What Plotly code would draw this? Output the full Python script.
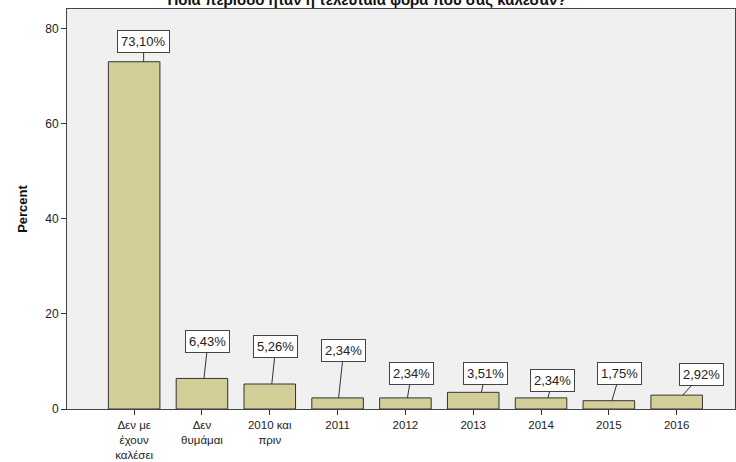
import plotly.graph_objects as go

categories = ["Δεν με<br>έχουν<br>καλέσει", "Δεν<br>θυμάμαι", "2010 και<br>πριν",
              "2011", "2012", "2013", "2014", "2015", "2016"]
percent = [73.10, 6.43, 5.26, 2.34, 2.34, 3.51, 2.34, 1.75, 2.92]
labels = ["73,10%", "6,43%", "5,26%", "2,34%", "2,34%", "3,51%", "2,34%", "1,75%", "2,92%"]

title_text = "Ποια περίοδο ήταν η τελευταία φορά που σας καλέσαν?"

# label callout styling: tip offset along bar top (category units) and box offset (px)
tip_dx = [0.14, 0.03, 0.03, 0.015, 0.03, 0.12, 0.10, 0.045, 0.09]
box_ax = [0, 4, 4, 5, 4, 4, 5, 8, 19]
box_ay = [-20, -37, -38, -47, -24, -19, -17, -27, -21]

fig = go.Figure()
fig.add_trace(go.Bar(
    x=categories, y=percent,
    marker=dict(color="#d3ce97", line=dict(color="#333333", width=1)),
    width=0.76,
    hoverinfo="skip",
))

for i, (v, lab) in enumerate(zip(percent, labels)):
    fig.add_annotation(
        x=i + tip_dx[i], y=v, xref="x", yref="y",
        text=lab, showarrow=True, arrowhead=0, arrowwidth=1, arrowcolor="#333333",
        ax=box_ax[i], ay=box_ay[i], standoff=0,
        bordercolor="#444444", borderwidth=1, borderpad=3, bgcolor="white",
        font=dict(family="Liberation Sans, Arial, sans-serif", size=13, color="#222222"),
    )

fig.update_layout(
    template="none",
    width=736, height=462,
    margin=dict(l=67, r=1, t=9, b=53, pad=0),
    paper_bgcolor="white", plot_bgcolor="#f0f0f0",
    showlegend=False,
    font=dict(family="Liberation Sans, Arial, sans-serif", size=12, color="#222222"),
    title=dict(text="<b>" + title_text + "</b>", x=0.4986, xanchor="center",
               xref="container", yref="container", y=1 - 5 / 462, yanchor="bottom",
               automargin=False,
               font=dict(size=15, color="#111111")),
    xaxis=dict(
        type="category", range=[-0.99, 8.86], automargin=False,
        showline=True, linecolor="#444444", linewidth=1, mirror=True,
        ticks="outside", ticklen=5, tickcolor="#333333",
        showgrid=False, zeroline=False,
        tickfont=dict(size=11.5, color="#222222"),
    ),
    yaxis=dict(
        range=[0, 84.2], tickvals=[0, 20, 40, 60, 80], automargin=False,
        showline=True, linecolor="#444444", linewidth=1, mirror=True,
        ticks="outside", ticklen=5, tickcolor="#333333",
        showgrid=False, zeroline=False,
        tickfont=dict(size=12, color="#222222"),
        title=dict(text="<b>Percent</b>", font=dict(size=13, color="#111111"), standoff=14),
    ),
)

fig.write_html("out.html", config={"displayModeBar": False},
               post_script="document.body.style.margin='0';document.body.style.overflow='hidden';")
